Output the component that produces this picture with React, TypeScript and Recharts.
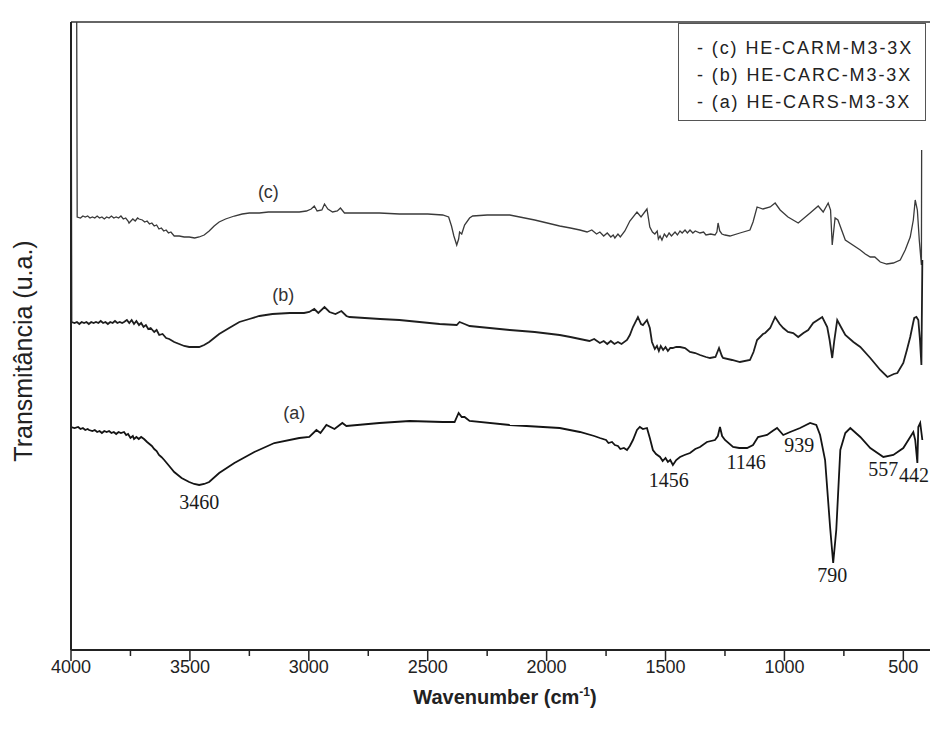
import { LineChart, Line, XAxis, YAxis, ReferenceLine, ReferenceDot } from "recharts";

// FTIR spectra, transmittance in arbitrary units (u.a.)
const seriesNames = ["(a) HE-CARS-M3-3X", "(b) HE-CARC-M3-3X", "(c) HE-CARM-M3-3X"];

const waveC = [
  3976, 3974, 3960, 3950, 3940, 3930, 3920, 3910, 3900, 3890, 3880, 3870, 3860, 3850, 3840, 3830, 3820, 3810,
  3800, 3790, 3780, 3770, 3760, 3756, 3748, 3740, 3730, 3720, 3714, 3700, 3690, 3680, 3670, 3660, 3650, 3640,
  3630, 3620, 3610, 3600, 3590, 3580, 3566, 3545, 3524, 3503, 3480, 3461, 3440, 3419, 3398, 3377, 3350, 3313,
  3280, 3250, 3208, 3170, 3124, 3094, 3040, 3010, 2990, 2977, 2965, 2945, 2934, 2920, 2900, 2880, 2867, 2850,
  2829, 2703, 2619, 2500, 2437, 2412, 2400, 2390, 2378, 2370, 2366, 2357, 2345, 2324, 2311, 2250, 2197, 2155,
  2050, 1945, 1900, 1860, 1830, 1810, 1790, 1776, 1760, 1745, 1730, 1720, 1713, 1700, 1690, 1671, 1650, 1620,
  1603, 1578, 1566, 1555, 1545, 1535, 1530, 1523, 1515, 1505, 1495, 1485, 1475, 1460, 1450, 1439, 1430, 1418,
  1408, 1397, 1385, 1375, 1355, 1340, 1330, 1310, 1292, 1284, 1279, 1272, 1263, 1250, 1229, 1187, 1145, 1132,
  1115, 1090, 1060, 1039, 1018, 985, 942, 892, 858, 837, 816, 806, 799, 787, 775, 744, 681, 660, 639, 620, 597,
  570, 542, 513, 492, 471, 458, 450, 441, 433, 424, 423,
];
const transC = [
  628, 433, 432, 434, 433, 434, 432, 433, 432, 434, 432, 433, 431, 433, 432, 434, 432, 433,
  432, 434, 431, 432, 429, 427, 429, 431, 429, 432, 431, 430, 428, 429, 426, 427, 424, 425,
  421, 422, 419, 420, 417, 418, 414, 414, 413, 413, 412, 413, 415, 419, 424, 428, 431, 434,
  436, 437, 437, 438, 438, 438, 438, 439, 441, 444, 439, 440, 446, 441, 438, 439, 442, 437,
  437, 437, 436, 436, 435, 433, 424, 414, 405, 411, 418, 416, 425, 432, 434, 435, 435, 435,
  430, 424, 422, 420, 418, 420, 416, 418, 414, 417, 413, 415, 412, 416, 413, 419, 429, 438,
  433, 441, 423, 418, 416, 419, 411, 414, 410, 416, 413, 417, 414, 418, 415, 419, 417, 420,
  417, 420, 417, 419, 417, 418, 415, 416, 415, 418, 427, 419, 416, 415, 414, 417, 420, 428,
  443, 441, 443, 447, 440, 433, 427, 437, 444, 438, 447, 440, 405, 432, 430, 410, 400, 396, 393, 393, 388,
  386, 387, 390, 400, 413, 430, 450, 440, 410, 385, 500,
];

const waveB = [
  4000, 3998, 3985, 3975, 3965, 3955, 3945, 3935, 3925, 3915, 3905, 3895, 3885, 3875, 3865, 3855, 3845, 3835,
  3825, 3815, 3805, 3795, 3785, 3777, 3765, 3755, 3745, 3735, 3725, 3714, 3705, 3695, 3685, 3675, 3665, 3650,
  3640, 3629, 3615, 3600, 3587, 3566, 3545, 3524, 3503, 3482, 3461, 3440, 3419, 3398, 3377, 3335, 3292, 3250,
  3208, 3153, 3080, 3020, 2998, 2977, 2960, 2934, 2913, 2888, 2863, 2842, 2829, 2700, 2619, 2450, 2378, 2366,
  2345, 2324, 2155, 2050, 1945, 1900, 1860, 1820, 1800, 1776, 1760, 1745, 1730, 1715, 1700, 1685, 1662, 1650,
  1637, 1616, 1603, 1595, 1578, 1566, 1557, 1545, 1536, 1528, 1520, 1510, 1500, 1490, 1480, 1470, 1455, 1439,
  1418, 1397, 1375, 1355, 1330, 1313, 1290, 1275, 1263, 1258, 1220, 1187, 1145, 1130, 1115, 1090, 1081, 1060,
  1039, 1020, 1005, 985, 963, 942, 920, 900, 879, 860, 841, 820, 810, 799, 790, 778, 760, 744, 710, 681, 639,
  597, 567, 540, 525, 500, 485, 471, 458, 454, 445, 437, 430, 424, 420,
];
const transB = [
  573, 328, 327, 328, 326, 328, 327, 328, 326, 328, 327, 328, 327, 329, 327, 328, 326, 328,
  327, 329, 327, 328, 327, 328, 330, 327, 330, 326, 329, 325, 327, 323, 325, 321, 322, 318,
  320, 315, 316, 312, 311, 308, 306, 304, 303, 303, 303, 305, 308, 312, 316, 322, 328, 331,
  334, 336, 337, 337, 338, 341, 337, 343, 338, 336, 339, 334, 333, 331, 330, 326, 325, 328,
  326, 324, 320, 318, 315, 313, 311, 309, 311, 307, 309, 306, 309, 306, 308, 306, 310, 315,
  323, 333, 326, 325, 330, 322, 308, 301, 304, 299, 304, 300, 303, 299, 302, 302, 303, 303,
  302, 298, 297, 295, 293, 292, 293, 302, 294, 292, 290, 288, 290, 298, 310, 316, 317, 322,
  333, 326, 322, 318, 317, 313, 317, 320, 327, 330, 333, 323, 310, 292, 310, 330, 322, 315, 308, 303, 292,
  280, 273, 276, 277, 287, 300, 313, 328, 332, 333, 330, 310, 285, 390,
];

const waveA = [
  4000, 3985, 3970, 3960, 3950, 3940, 3930, 3924, 3910, 3900, 3890, 3880, 3870, 3860, 3850, 3840, 3830, 3820,
  3810, 3800, 3790, 3777, 3768, 3760, 3750, 3740, 3735, 3725, 3715, 3705, 3693, 3680, 3670, 3660, 3650, 3640,
  3630, 3620, 3608, 3587, 3566, 3535, 3503, 3482, 3461, 3440, 3419, 3377, 3313, 3229, 3145, 3040, 2998, 2968,
  2951, 2926, 2892, 2859, 2842, 2703, 2576, 2437, 2387, 2370, 2357, 2345, 2324, 2155, 1945, 1860, 1800, 1776,
  1750, 1740, 1725, 1713, 1700, 1690, 1675, 1662, 1650, 1637, 1620, 1608, 1595, 1578, 1566, 1553, 1540, 1523,
  1512, 1500, 1490, 1480, 1469, 1455, 1439, 1420, 1397, 1375, 1355, 1326, 1292, 1280, 1271, 1262, 1250, 1216,
  1190, 1157, 1132, 1111, 1073, 1050, 1031, 1005, 976, 934, 892, 866, 850, 829, 808, 795, 782, 765, 744, 723,
  681, 639, 584, 542, 500, 471, 458, 450, 441, 437, 429, 420,
];
const transA = [
  223, 222, 223, 221, 222, 220, 221, 220, 219, 220, 218, 219, 217, 219, 218, 219, 217, 218,
  216, 218, 217, 218, 215, 216, 212, 214, 211, 213, 211, 213, 211, 208, 206, 204, 201, 199,
  195, 193, 190, 184, 178, 172, 168, 166, 165, 166, 168, 177, 187, 198, 207, 212, 213, 220,
  217, 225, 221, 227, 224, 227, 229, 228, 228, 237, 233, 233, 229, 225, 222, 218, 214, 212,
  210, 207, 208, 205, 204, 201, 202, 200, 204, 210, 220, 223, 221, 222, 212, 200, 196, 193,
  189, 192, 188, 190, 185, 190, 193, 195, 197, 201, 203, 208, 210, 214, 223, 214, 210, 203,
  202, 202, 205, 213, 215, 219, 222, 215, 218, 222, 227, 225, 215, 190, 123, 87, 120, 200, 217, 222,
  213, 202, 193, 195, 202, 213, 218, 210, 187, 223, 227, 210,
];

// peak annotations on curve (a)
const peakTexts = ["3460", "1456", "1146", "939", "790", "557", "442"];
const peakWave = [3461, 1486, 1161, 938, 799, 584, 455];
const peakLevel = [148, 170, 188, 205, 75, 181, 175];

// curve tags
const tagTexts = ["(a)", "(b)", "(c)"];
const tagWave = [3061, 3107, 3170];
const tagLevel = [237, 355, 458];

const majorTicks = [4000, 3500, 3000, 2500, 2000, 1500, 1000, 500];
const allTicks = [4000, 3750, 3500, 3250, 3000, 2750, 2500, 2250, 2000, 1750, 1500, 1250, 1000, 750, 500];

const build = (w: number[], t: number[]) => w.map((wn, i) => ({ wn, t: t[i] }));
const dataA = build(waveA, transA);
const dataB = build(waveB, transB);
const dataC = build(waveC, transC);

const sans = "Liberation Sans, Arial, sans-serif";

function WaveTick(props: any) {
  const { x, y, payload } = props;
  const major = majorTicks.includes(payload.value);
  return (
    <g>
      <line x1={x} y1={y} x2={x} y2={y + (major ? 11 : 6)} stroke="#222" strokeWidth={1.5} />
      {major && (
        <text x={x} y={y + 23} textAnchor="middle" fontSize={18} fill="#222" fontFamily={sans}>
          {payload.value}
        </text>
      )}
    </g>
  );
}

const xTitle = (props: any) => {
  const vb = props.viewBox;
  return (
    <text x={vb.x + vb.width / 2} y={vb.y + 54} textAnchor="middle" fontSize={20} fontWeight="bold" fill="#222" fontFamily={sans}>
      Wavenumber (cm<tspan dy={-8} fontSize={12}>-1</tspan><tspan dy={8}>)</tspan>
    </text>
  );
};

const yTitle = (props: any) => {
  const vb = props.viewBox;
  const cx = 23;
  const cy = vb.y + vb.height / 2 + 15;
  return (
    <text x={cx} y={cy} transform={`rotate(-90 ${cx} ${cy})`} textAnchor="middle" dominantBaseline="central" fontSize={25} fill="#222" fontFamily={sans}>
      Transmitância (u.a.)
    </text>
  );
};

export default function App() {
  const legendOrder = [2, 1, 0];
  return (
    <div style={{ position: "absolute", left: 0, top: 0, width: 930, height: 731, overflow: "hidden", background: "#fff" }}>
      <LineChart width={950} height={731} margin={{ top: 22, right: 11, left: 0, bottom: 21 }}>
        <XAxis
          type="number"
          dataKey="wn"
          domain={[350, 4000]}
          reversed
          allowDataOverflow
          ticks={allTicks}
          interval={0}
          tick={<WaveTick />}
          tickLine={false}
          tickSize={0}
          tickMargin={0}
          height={60}
          axisLine={{ stroke: "#222", strokeWidth: 2 }}
          label={xTitle}
        />
        <YAxis
          type="number"
          domain={[0, 628]}
          allowDataOverflow
          tick={false}
          tickLine={false}
          width={71}
          axisLine={{ stroke: "#222", strokeWidth: 2 }}
          label={yTitle}
        />
        <ReferenceLine y={628} stroke="#333" strokeWidth={1.5} />
        <Line data={dataC} dataKey="t" name={seriesNames[2]} type="linear" stroke="#3a3a3a" strokeWidth={1.3} dot={false} isAnimationActive={false} />
        <Line data={dataB} dataKey="t" name={seriesNames[1]} type="linear" stroke="#1e1e1e" strokeWidth={1.8} dot={false} isAnimationActive={false} />
        <Line data={dataA} dataKey="t" name={seriesNames[0]} type="linear" stroke="#141414" strokeWidth={1.8} dot={false} isAnimationActive={false} />
        {peakTexts.map((txt, i) => (
          <ReferenceDot
            key={txt}
            x={peakWave[i]}
            y={peakLevel[i]}
            r={0}
            fill="none"
            stroke="none"
            ifOverflow="visible"
            label={{ value: txt, position: "center", fill: "#1a1a1a", fontSize: 20, fontFamily: "Liberation Serif, Times New Roman, serif" }}
          />
        ))}
        {tagTexts.map((txt, i) => (
          <ReferenceDot
            key={txt}
            x={tagWave[i]}
            y={tagLevel[i]}
            r={0}
            fill="none"
            stroke="none"
            ifOverflow="visible"
            label={{ value: txt, position: "center", fill: "#333", fontSize: 18, fontFamily: sans }}
          />
        ))}
      </LineChart>
      <div
        style={{
          position: "absolute",
          left: 678,
          top: 23,
          width: 246,
          height: 96,
          border: "1px solid #555",
          background: "#fff",
          fontFamily: sans,
          fontSize: 18,
          color: "#222",
          letterSpacing: 1.9,
        }}
      >
        {legendOrder.map((idx, row) => (
          <div key={idx} style={{ position: "absolute", left: 18, top: 13 + row * 27, lineHeight: "22px", whiteSpace: "nowrap" }}>
            - {seriesNames[idx]}
          </div>
        ))}
      </div>
    </div>
  );
}
